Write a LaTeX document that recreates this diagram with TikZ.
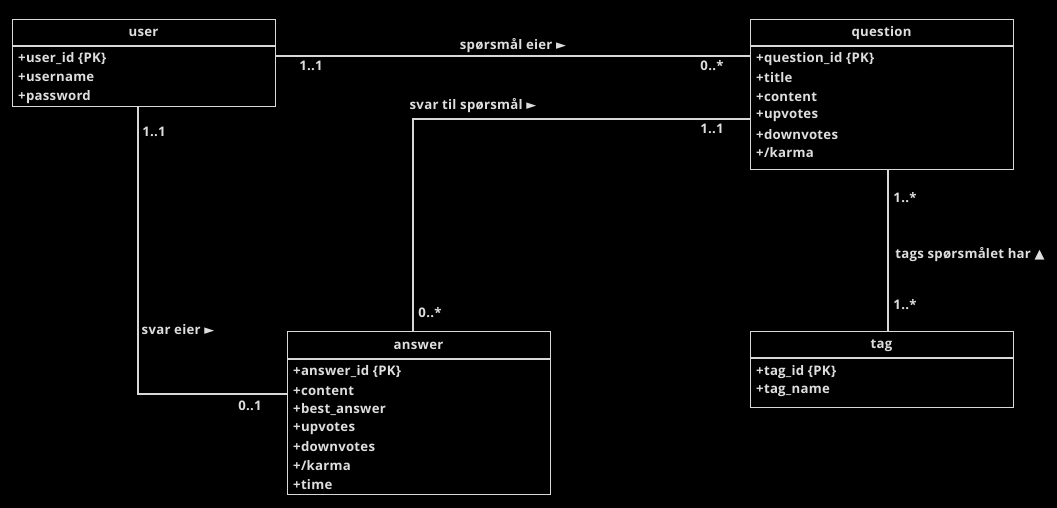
\documentclass[tikz,border=0pt]{standalone}
\usepackage{fontspec}
\setmainfont{Open Sans}[UprightFont={* Bold},LetterSpace=2]
\newfontfamily\symfont{DejaVu Sans}
\usetikzlibrary{calc}
\definecolor{fg}{HTML}{DEDEDE}
\definecolor{ln}{HTML}{D8D8D8}
\newcommand{\trisym}[1]{{\symfont\fontsize{13}{15}\selectfont #1}}
\begin{document}
\begin{tikzpicture}[x=1pt,y=-1pt,
  every node/.style={text=fg,font=\fontsize{13.2}{15}\selectfont},
  entity/.style={draw=ln,line width=1.1pt,rectangle,anchor=north west,inner sep=0pt},
  title/.style={anchor=center},
  attr/.style={anchor=west,inner sep=0pt},
  conn/.style={draw=ln,line width=1.1pt},
  lbl/.style={inner sep=0pt}]
\fill[black] (0,0) rectangle (1057,508);
\useasboundingbox (0,0) rectangle (1057,508);

% user
\node[entity,minimum width=263pt,minimum height=87pt] (user) at (12,19) {};
\draw[ln,line width=1.1pt] (12,46) -- (275,46);
\node[title] (userT) at (143.5,33) {user};
\node[attr] (u1) at (18,59) {+user\_id \{PK\}};
\node[attr] (u2) at (18,78) {+username};
\node[attr] (u3) at (18,97) {+password};

% question
\node[entity,minimum width=263pt,minimum height=150pt] (question) at (750,19) {};
\draw[ln,line width=1.1pt] (750,46) -- (1013,46);
\node[title] (questionT) at (881.5,33) {question};
\node[attr] (q1) at (756,59) {+question\_id \{PK\}};
\node[attr] (q2) at (756,78) {+title};
\node[attr] (q3) at (756,97) {+content};
\node[attr] (q4) at (756,116) {+upvotes};
\node[attr] (q5) at (756,135) {+downvotes};
\node[attr] (q6) at (756,153) {+/karma};

% answer
\node[entity,minimum width=263pt,minimum height=163pt] (answer) at (287,331) {};
\draw[ln,line width=1.1pt] (287,359) -- (550,359);
\node[title] (answerT) at (418.5,346) {answer};
\node[attr] (a1) at (293,372) {+answer\_id \{PK\}};
\node[attr] (a2) at (293,391) {+content};
\node[attr] (a3) at (293,410) {+best\_answer};
\node[attr] (a4) at (293,429) {+upvotes};
\node[attr] (a5) at (293,447) {+downvotes};
\node[attr] (a6) at (293,466) {+/karma};
\node[attr] (a7) at (293,485) {+time};

% tag
\node[entity,minimum width=263pt,minimum height=76pt] (tag) at (750,331) {};
\draw[ln,line width=1.1pt] (750,358) -- (1013,358);
\node[title] (tagT) at (881.5,346) {tag};
\node[attr] (t1) at (756,372) {+tag\_id \{PK\}};
\node[attr] (t2) at (756,391) {+tag\_name};

% helper coordinates
\coordinate (cUQ) at (0,56);
\coordinate (cAQ) at (0,119);
\coordinate (cUAx) at (138,0);
\coordinate (cUAy) at (0,394);
\coordinate (cAx) at (413,0);
\coordinate (cQTx) at (888,0);

% user -- question
\draw[conn] (user.east |- cUQ) -- (question.west |- cUQ);
\node[lbl] (l1) at (513,46) {spørsmål eier \trisym{►}};
\node[lbl] (l2) at (311,66) {1..1};
\node[lbl] (l3) at (712,66) {0..*};

% answer -- question
\draw[conn] (answer.north -| cAx) -- (cAx |- cAQ) -- (question.west |- cAQ);
\node[lbl] (l4) at (473,106) {svar til spørsmål \trisym{►}};
\node[lbl] (l5) at (712,129) {1..1};
\node[lbl] (l6) at (430,313) {0..*};

% user -- answer
\draw[conn] (user.south -| cUAx) -- (cUAx |- cUAy) -- (answer.west |- cUAy);
\node[lbl] (l7) at (154,132) {1..1};
\node[lbl] (l8) at (178,330) {svar eier \trisym{►}};
\node[lbl] (l9) at (250,406) {0..1};

% question -- tag
\draw[conn] (question.south -| cQTx) -- (tag.north -| cQTx);
\node[lbl] (l10) at (905,198) {1..*};
\node[lbl] (l11) at (970,255) {tags spørsmålet har \trisym{▲}};
\node[lbl] (l12) at (905,305) {1..*};
\end{tikzpicture}
\end{document}
